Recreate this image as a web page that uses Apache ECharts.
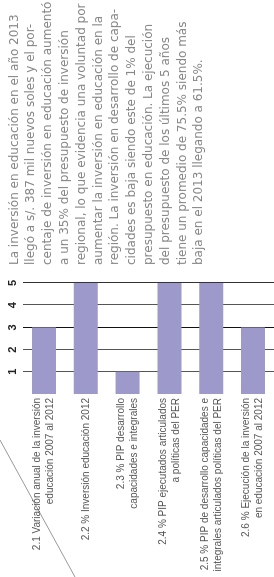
<!DOCTYPE html>
<html>
<head>
<meta charset="utf-8">
<script src="https://cdn.jsdelivr.net/npm/echarts@6/dist/echarts.min.js"></script>
<style>
  html, body { margin: 0; padding: 0; width: 274px; height: 577px; overflow: hidden; background: #fff; }
  /* the chart is drawn lying down and turned a quarter turn */
  #main {
    position: absolute; left: 0; top: 0;
    width: 577px; height: 274px;
    transform-origin: 0 0;
    transform: translateY(577px) rotate(-90deg);
  }
</style>
</head>
<body>
<div id="main"></div>
<script>
var categories = [
  "2.1 Variación anual de la inversión\neducación 2007 al 2012",
  "2.2 % Inversión educación 2012",
  "2.3 % PIP desarrollo\ncapacidades e integrales",
  "2.4 % PIP ejecutados articulados\na políticas del PER",
  "2.5 % PIP de desarrollo capacidades e\nintegrales articulados políticas del PER",
  "2.6 % Ejecución de la inversión\nen educación 2007 al 2012"
];
var values = [3, 5, 1, 5, 5, 3];
var tickLabels = ["", "1", "2", "3", "4", "5"];
var paragraph = [
  "La inversión en educación en el año 2013",
  "llegó a s/. 387 mil nuevos soles y el por-",
  "centaje de inversión en educación aumentó",
  "a un 35% del presupuesto de inversión",
  "regional, lo que evidencia una voluntad por",
  "aumentar la inversión en educación en la",
  "región. La inversión en desarrollo de capa-",
  "cidades es baja siendo este de 1% del",
  "presupuesto en educación. La ejecución",
  "del presupuesto de los últimos 5 años",
  "tiene un promedio de 75.5% siendo más",
  "baja en el 2013 llegando a 61.5%."
];

var myChart = echarts.init(document.getElementById("main"));
myChart.setOption({
  animation: false,
  grid: { left: 183, right: 283, top: 23, bottom: 0 },
  xAxis: {
    type: "value",
    position: "top",
    min: 0,
    max: 5,
    interval: 1,
    axisLine: { show: false },
    axisTick: { show: false },
    axisLabel: {
      margin: 5,
      fontSize: 11,
      fontWeight: "bold",
      color: "#222",
      formatter: function (v) { return tickLabels[v]; }
    },
    splitLine: {
      lineStyle: {
        width: 1,
        color: ["rgba(0,0,0,0)", "#555", "#555", "#111", "#555", "#333"]
      }
    }
  },
  yAxis: {
    type: "category",
    inverse: true,
    data: categories,
    axisLine: { show: false },
    axisTick: { show: false },
    axisLabel: {
      margin: 4,
      fontSize: 10,
      lineHeight: 13,
      fontFamily: "Liberation Sans",
      color: "#555"
    }
  },
  series: [
    {
      type: "bar",
      data: values,
      barWidth: 24,
      itemStyle: { color: "#9d99cb" }
    }
  ],
  graphic: [
    {
      type: "text",
      left: 312,
      top: 6,
      style: {
        text: paragraph.join("\n"),
        font: "12px 'DejaVu Sans'",
        fill: "#888",
        lineHeight: 16.8
      }
    },
    {
      type: "line",
      shape: { x1: 137, y1: 0, x2: 0, y2: 75 },
      style: { stroke: "#999", lineWidth: 1 }
    }
  ]
});
</script>
</body>
</html>
